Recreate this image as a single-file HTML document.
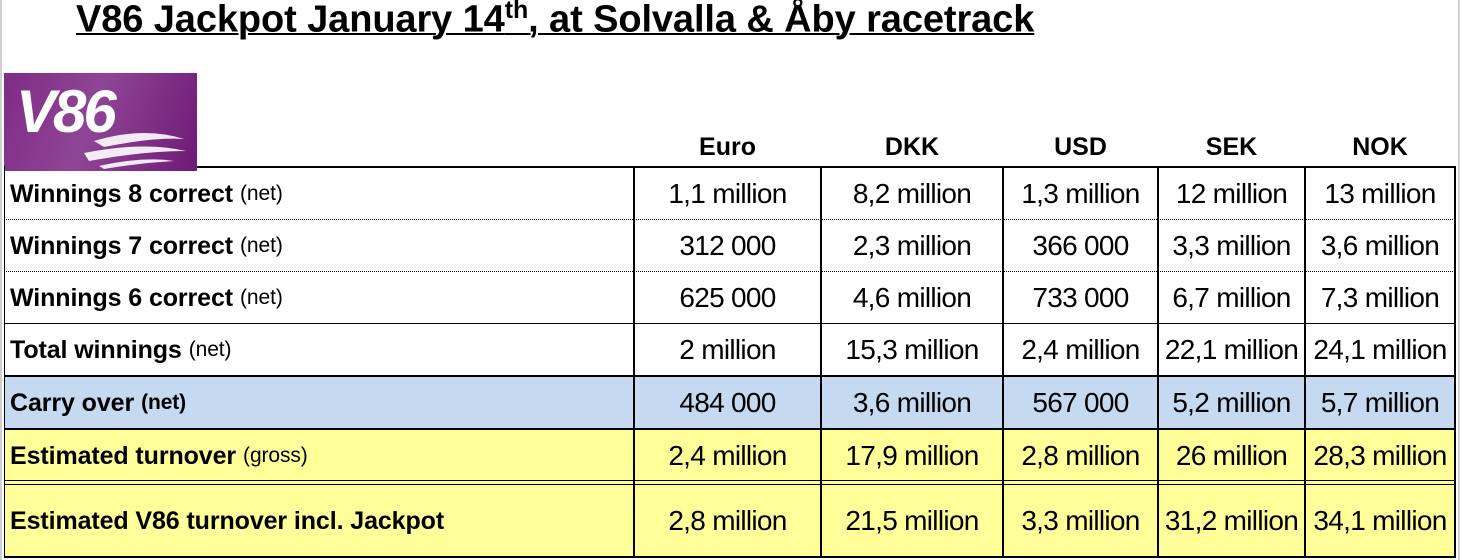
<!DOCTYPE html>
<html><head><meta charset="utf-8"><style>
body{margin:0;width:1460px;height:560px;background:#fff;position:relative;overflow:hidden;font-family:"Liberation Sans",Arial,sans-serif;}
.a{position:absolute}
.t{left:76px;top:-4px;font-size:38px;font-weight:bold;text-decoration:underline;text-decoration-thickness:2px;letter-spacing:-0.1px;white-space:nowrap}
.h{top:133px;font-size:25px;font-weight:bold;text-align:center}
.c{font-size:28px;letter-spacing:-0.7px;text-align:center;display:flex;align-items:center;justify-content:center;white-space:nowrap}
.l{font-size:25px;font-weight:bold;letter-spacing:-0.1px;display:flex;align-items:center;padding-left:6px;white-space:nowrap}
.l span{font-weight:normal;font-size:21px;margin-left:7px}
.l span.b{font-weight:bold}
</style></head><body>
<div class="a" style="left:0;top:0;width:2px;height:560px;background:#d0d0d0"></div>
<div class="a" style="left:1458px;top:0;width:2px;height:560px;background:#d0d0d0"></div>
<div class="a t">V86 Jackpot January 14<sup style="font-size:25px">th</sup>, at Solvalla &amp; Åby racetrack</div>
<div class="a" style="left:4px;top:73px;width:193px;height:98px;background:linear-gradient(110deg,#7e2c86 0%,#8f4595 45%,#6e1a77 100%)">
<div class="a" style="left:12px;top:4px;color:#fff;font-size:60px;font-weight:bold;font-style:italic;letter-spacing:-3px">V86</div>
<svg class="a" style="left:60px;top:38px" width="130" height="60"><path d="M30 30 Q80 15 120 28 Q90 26 40 36Z M20 42 Q80 30 122 40 Q80 40 25 50Z M35 55 Q80 45 110 50 Q75 52 40 58Z" fill="#fff" opacity="0.9"/></svg>
</div>
<div class="a" style="left:4px;top:377px;width:1451px;height:52px;background:#c5d9f1"></div>
<div class="a" style="left:4px;top:429px;width:1451px;height:128px;background:#ffff99"></div>
<div class="a h" style="left:634px;width:187px">Euro</div>
<div class="a h" style="left:821px;width:182px">DKK</div>
<div class="a h" style="left:1003px;width:155px">USD</div>
<div class="a h" style="left:1158px;width:147px">SEK</div>
<div class="a h" style="left:1305px;width:150px">NOK</div>
<div class="a" style="left:197px;top:166px;width:1258px;height:2px;background:#000"></div>
<div class="a" style="left:4px;top:219px;width:1451px;border-top:1px dotted #000"></div>
<div class="a" style="left:4px;top:271px;width:1451px;border-top:1px dotted #000"></div>
<div class="a" style="left:4px;top:323px;width:1451px;height:1px;background:#000"></div>
<div class="a" style="left:4px;top:375px;width:1451px;height:2px;background:#000"></div>
<div class="a" style="left:4px;top:428px;width:1451px;height:2px;background:#000"></div>
<div class="a" style="left:4px;top:480px;width:1451px;height:1px;background:#000"></div>
<div class="a" style="left:4px;top:484px;width:1451px;height:1px;background:#000"></div>
<div class="a" style="left:4px;top:556px;width:1451px;height:2px;background:#000"></div>
<div class="a" style="left:4px;top:166px;width:1px;height:392px;background:#000"></div>
<div class="a" style="left:633px;top:166px;width:2px;height:392px;background:#000"></div>
<div class="a" style="left:820px;top:166px;width:2px;height:392px;background:#000"></div>
<div class="a" style="left:1002px;top:166px;width:2px;height:392px;background:#000"></div>
<div class="a" style="left:1157px;top:166px;width:2px;height:392px;background:#000"></div>
<div class="a" style="left:1304px;top:166px;width:2px;height:392px;background:#000"></div>
<div class="a" style="left:1454px;top:166px;width:2px;height:392px;background:#000"></div>
<div class="a l" style="left:4px;top:168px;height:52px">Winnings 8 correct<span>(net)</span></div>
<div class="a l" style="left:4px;top:220px;height:52px">Winnings 7 correct<span>(net)</span></div>
<div class="a l" style="left:4px;top:272px;height:52px">Winnings 6 correct<span>(net)</span></div>
<div class="a l" style="left:4px;top:324px;height:52px">Total winnings<span>(net)</span></div>
<div class="a l" style="left:4px;top:377px;height:52px">Carry over<span class="b">(net)</span></div>
<div class="a l" style="left:4px;top:430px;height:52px">Estimated turnover<span>(gross)</span></div>
<div class="a l" style="left:4px;top:485px;height:72px">Estimated V86 turnover incl. Jackpot</div>

<div class="a c" style="left:634px;top:168px;width:187px;height:52px">1,1 million</div>
<div class="a c" style="left:821px;top:168px;width:182px;height:52px">8,2 million</div>
<div class="a c" style="left:1003px;top:168px;width:155px;height:52px">1,3 million</div>
<div class="a c" style="left:1158px;top:168px;width:147px;height:52px">12 million</div>
<div class="a c" style="left:1305px;top:168px;width:150px;height:52px">13 million</div>

<div class="a c" style="left:634px;top:220px;width:187px;height:52px">312 000</div>
<div class="a c" style="left:821px;top:220px;width:182px;height:52px">2,3 million</div>
<div class="a c" style="left:1003px;top:220px;width:155px;height:52px">366 000</div>
<div class="a c" style="left:1158px;top:220px;width:147px;height:52px">3,3 million</div>
<div class="a c" style="left:1305px;top:220px;width:150px;height:52px">3,6 million</div>

<div class="a c" style="left:634px;top:272px;width:187px;height:52px">625 000</div>
<div class="a c" style="left:821px;top:272px;width:182px;height:52px">4,6 million</div>
<div class="a c" style="left:1003px;top:272px;width:155px;height:52px">733 000</div>
<div class="a c" style="left:1158px;top:272px;width:147px;height:52px">6,7 million</div>
<div class="a c" style="left:1305px;top:272px;width:150px;height:52px">7,3 million</div>

<div class="a c" style="left:634px;top:324px;width:187px;height:52px">2 million</div>
<div class="a c" style="left:821px;top:324px;width:182px;height:52px">15,3 million</div>
<div class="a c" style="left:1003px;top:324px;width:155px;height:52px">2,4 million</div>
<div class="a c" style="left:1158px;top:324px;width:147px;height:52px">22,1 million</div>
<div class="a c" style="left:1305px;top:324px;width:150px;height:52px">24,1 million</div>

<div class="a c" style="left:634px;top:377px;width:187px;height:52px">484 000</div>
<div class="a c" style="left:821px;top:377px;width:182px;height:52px">3,6 million</div>
<div class="a c" style="left:1003px;top:377px;width:155px;height:52px">567 000</div>
<div class="a c" style="left:1158px;top:377px;width:147px;height:52px">5,2 million</div>
<div class="a c" style="left:1305px;top:377px;width:150px;height:52px">5,7 million</div>

<div class="a c" style="left:634px;top:430px;width:187px;height:52px">2,4 million</div>
<div class="a c" style="left:821px;top:430px;width:182px;height:52px">17,9 million</div>
<div class="a c" style="left:1003px;top:430px;width:155px;height:52px">2,8 million</div>
<div class="a c" style="left:1158px;top:430px;width:147px;height:52px">26 million</div>
<div class="a c" style="left:1305px;top:430px;width:150px;height:52px">28,3 million</div>

<div class="a c" style="left:634px;top:485px;width:187px;height:72px">2,8 million</div>
<div class="a c" style="left:821px;top:485px;width:182px;height:72px">21,5 million</div>
<div class="a c" style="left:1003px;top:485px;width:155px;height:72px">3,3 million</div>
<div class="a c" style="left:1158px;top:485px;width:147px;height:72px">31,2 million</div>
<div class="a c" style="left:1305px;top:485px;width:150px;height:72px">34,1 million</div>
</body></html>
